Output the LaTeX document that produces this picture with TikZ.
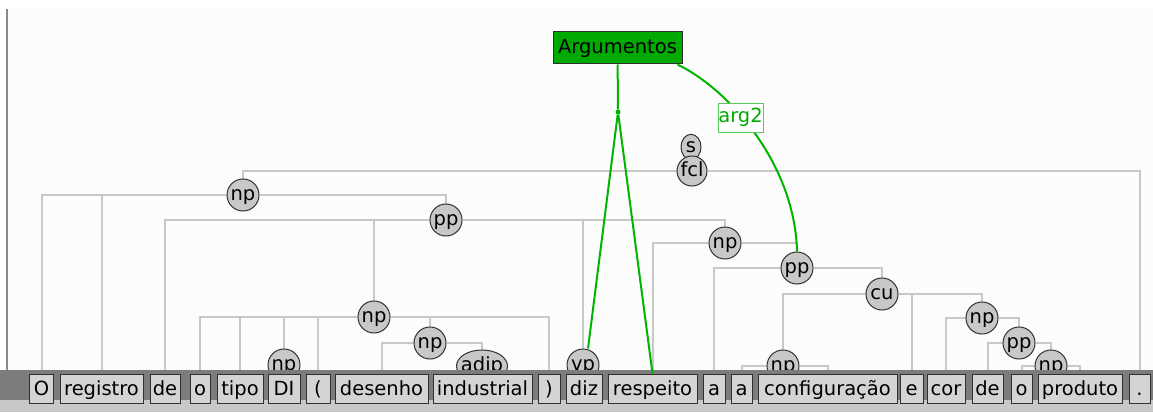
\documentclass[tikz,border=0pt]{standalone}
\usepackage{fontspec}
\setmainfont{DejaVu Sans}
\usetikzlibrary{shapes.geometric}
\pgfdeclarelayer{edges}
\pgfdeclarelayer{strip}
\pgfsetlayers{edges,main,strip}

\definecolor{linegray}{RGB}{200,200,200}
\definecolor{nodegray}{RGB}{200,200,200}
\definecolor{rimgray}{RGB}{48,48,48}
\definecolor{boxgray}{RGB}{212,212,212}
\definecolor{bandgray}{RGB}{124,124,124}
\definecolor{paleband}{RGB}{200,200,200}
\definecolor{pagegray}{RGB}{252,252,252}
\definecolor{framegray}{RGB}{138,138,138}
\definecolor{argfill}{RGB}{0,170,0}
\definecolor{arcgreen}{RGB}{0,180,0}
\definecolor{labgreen}{RGB}{0,170,0}
\definecolor{labrim}{RGB}{90,200,90}

% phrase labels are centred without widening their ellipse
\newcommand{\phr}[1]{\makebox[0pt]{#1}}

\begin{document}
\begin{tikzpicture}[x=1pt,y=-1pt,
  every node/.style={font=\fontsize{19.5}{23}\selectfont},
  phrase/.style={ellipse, draw=rimgray, line width=1pt, fill=nodegray,
    inner sep=0pt, minimum width=32pt, minimum height=32pt,
    text height=14pt, text depth=4pt},
  word/.style={draw=rimgray, line width=1pt, fill=boxgray, inner sep=0pt,
    minimum height=29pt, text height=16pt, text depth=2pt},
  branch/.style={draw=linegray, line width=2pt},
  relation/.style={draw=arcgreen, line width=2pt},
]
\useasboundingbox (0,0) rectangle (1153,412);

% page and left frame
\begin{pgfonlayer}{edges}
  \fill[pagegray] (7.5,9) rectangle (1153,370);
  \draw[framegray, line width=2pt] (6.5,9) -- (6.5,370);
\end{pgfonlayer}

% word strip
\begin{pgfonlayer}{strip}
  \fill[bandgray] (0,370) rectangle (1153,400);
  \fill[paleband] (0,400) rectangle (1153,412);
  \node[word, minimum width=24pt] (w1)  at (41.5,388.5)  {O};
  \node[word, minimum width=83pt] (w2)  at (101.5,388.5) {registro};
  \node[word, minimum width=30pt] (w3)  at (165,388.5)   {de};
  \node[word, minimum width=20pt] (w4)  at (200,388.5)   {o};
  \node[word, minimum width=46pt] (w5)  at (240,388.5)   {tipo};
  \node[word, minimum width=32pt] (w6)  at (284,388.5)   {DI};
  \node[word, minimum width=24pt] (w7)  at (318,388.5)   {(};
  \node[word, minimum width=93pt] (w8)  at (381.5,388.5) {desenho};
  \node[word, minimum width=99pt] (w9)  at (482.5,388.5) {industrial};
  \node[word, minimum width=22pt] (w10) at (549,388.5)   {)};
  \node[word, minimum width=36pt] (w11) at (584,388.5)   {diz};
  \node[word, minimum width=89pt] (w12) at (652.5,388.5) {respeito};
  \node[word, minimum width=22pt] (w13) at (714,388.5)   {a};
  \node[word, minimum width=21pt] (w14) at (741.5,388.5) {a};
  \node[word, minimum width=139pt] (w15) at (827.5,388.5) {configuração};
  \node[word, minimum width=23pt] (w16) at (911.5,388.5) {e};
  \node[word, minimum width=38pt] (w17) at (946,388.5)   {cor};
  \node[word, minimum width=31pt] (w18) at (987.5,388.5) {de};
  \node[word, minimum width=21pt] (w19) at (1021.5,388.5) {o};
  \node[word, minimum width=84pt] (w20) at (1080,388.5)  {produto};
  \node[word, minimum width=21pt] (w21) at (1139.5,388.5) {.};
\end{pgfonlayer}

% phrase nodes
\node[phrase, minimum width=20pt, minimum height=25pt] (s) at (691,147) {\phr{s}};
\node[phrase, minimum width=30pt, minimum height=30pt] (fcl) at (692,171) {\phr{fcl}};
\node[phrase] (npA)  at (243,195)  {\phr{np}};
\node[phrase] (ppA)  at (446,220)  {\phr{pp}};
\node[phrase] (npB)  at (374,317)  {\phr{np}};
\node[phrase] (npDI) at (284,365)  {\phr{np}};
\node[phrase] (npC)  at (430,343)  {\phr{np}};
\node[phrase, minimum width=51pt] (adjp) at (482,366) {\phr{adjp}};
\node[phrase] (vp)   at (583,365)  {\phr{vp}};
\node[phrase] (npD)  at (725,243)  {\phr{np}};
\node[phrase] (ppB)  at (797,268)  {\phr{pp}};
\node[phrase] (cu)   at (882,294)  {\phr{cu}};
\node[phrase] (npE)  at (783,366)  {\phr{np}};
\node[phrase] (npF)  at (982,318)  {\phr{np}};
\node[phrase] (ppC)  at (1019,343) {\phr{pp}};
\node[phrase] (npG)  at (1051,366) {\phr{np}};

% tree branches
\begin{pgfonlayer}{edges}
  \draw[branch] (fcl) -| (npA);
  \draw[branch] (fcl) -| (w21);
  \draw[branch] (npA) -| (w1);
  \draw[branch] (npA) -| (w2);
  \draw[branch] (npA) -| (ppA);
  \draw[branch] (ppA) -| (w3);
  \draw[branch] (ppA) -| (npB);
  \draw[branch] (ppA) -| (vp);
  \draw[branch] (ppA) -| (npD);
  \draw[branch] (npB) -| (w4);
  \draw[branch] (npB) -| (w5);
  \draw[branch] (npB) -| (npDI);
  \draw[branch] (npB) -| (w7);
  \draw[branch] (npB) -| (npC);
  \draw[branch] (npB) -| (w10);
  \draw[branch] (npDI) -- (w6);
  \draw[branch] (npC) -| (w8);
  \draw[branch] (npC) -| (adjp);
  \draw[branch] (adjp) -- (w9);
  \draw[branch] (vp) -- (w11);
  \draw[branch] (npD) -| (w12);
  \draw[branch] (npD) -| (ppB);
  \draw[branch] (ppB) -| (w13);
  \draw[branch] (ppB) -| (cu);
  \draw[branch] (cu) -| (npE);
  \draw[branch] (cu) -| (w16);
  \draw[branch] (cu) -| (npF);
  \draw[branch] (npE) -| (w14);
  \draw[branch] (npE) -| (w15);
  \draw[branch] (npF) -| (w17);
  \draw[branch] (npF) -| (ppC);
  \draw[branch] (ppC) -| (w18);
  \draw[branch] (ppC) -| (npG);
  \draw[branch] (npG) -| (w19);
  \draw[branch] (npG) -| (w20);
\end{pgfonlayer}

% argument relation
\node[draw=rimgray, line width=1pt, fill=argfill, inner sep=0pt,
  minimum width=129pt, minimum height=32pt] (arg) at (617.5,48) {Argumentos};
\node[circle, fill=arcgreen, inner sep=0pt, minimum size=5pt] (hub) at (618,112) {};
\draw[relation] (arg) -- (hub);
\draw[relation] (hub) -- ([xshift=5pt]vp.north);
\draw[relation] ([xshift=-5pt]arg.south east) .. controls (730,90) and (795,165) .. (ppB.north);
\node[draw=labrim, line width=1pt, fill=white, text=labgreen, inner sep=0pt,
  minimum width=45pt, minimum height=29pt] (arg2) at (740.5,117.5) {arg2};
\begin{pgfonlayer}{strip}
  \draw[relation] (hub) -- (w12.north);
\end{pgfonlayer}
\end{tikzpicture}
\end{document}
